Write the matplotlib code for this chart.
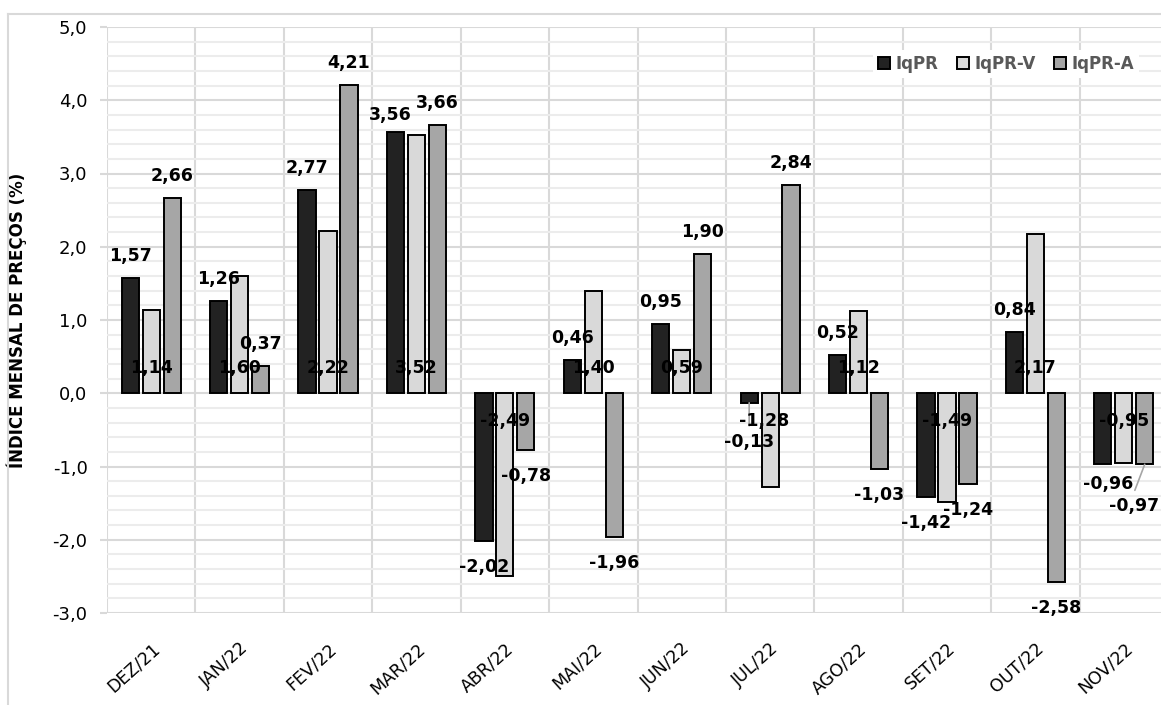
import matplotlib
matplotlib.use("Agg")
import matplotlib.pyplot as plt
from matplotlib.ticker import FuncFormatter, MultipleLocator
from matplotlib.lines import Line2D
import numpy as np

plt.rcParams['font.family'] = ['DejaVu Sans']

months = ["DEZ/21", "JAN/22", "FEV/22", "MAR/22", "ABR/22", "MAI/22",
          "JUN/22", "JUL/22", "AGO/22", "SET/22", "OUT/22", "NOV/22"]
iqpr   = [1.57, 1.26, 2.77, 3.56, -2.02, 0.46, 0.95, -0.13, 0.52, -1.42, 0.84, -0.96]
iqpr_v = [1.14, 1.60, 2.22, 3.52, -2.49, 1.40, 0.59, -1.28, 1.12, -1.49, 2.17, -0.95]
iqpr_a = [2.66, 0.37, 4.21, 3.66, -0.78, -1.96, 1.90, 2.84, -1.03, -1.24, -2.58, -0.97]

names = ["IqPR", "IqPR-V", "IqPR-A"]
colors = ["#222222", "#d9d9d9", "#a6a6a6"]

W, H = 1161, 705
fig = plt.figure(figsize=(W / 100, H / 100), dpi=100)
# plot area in pixels: x 107..1168 (right side cut off by the image), y 27..613
ax = fig.add_axes([107 / W, 1 - 613 / H, (1168 - 107) / W, (613 - 27) / H])

x = np.arange(len(months))
step = 0.237
width = 0.195
series = [iqpr, iqpr_v, iqpr_a]
for k, (vals, c, n) in enumerate(zip(series, colors, names)):
    ax.bar(x + (k - 1) * step, vals, width, color=c, edgecolor="black",
           linewidth=1.4, label=n, zorder=3)

ax.set_xlim(-0.5, len(months) - 0.5)
ax.set_ylim(-3, 5)

def fmt(v):
    return f"{v:.2f}".replace(".", ",")

# label offsets in pixels (dx, dy) from bar end, Excel-like positions
special = {(0, 3): (-5, 17), (0, 7): (0, -39), (0, 11): (5, -20),
           (2, 11): (-11, -42), (1, 7): (-6, 0)}
leaders = {(0, 7), (2, 11)}
for k, vals in enumerate(series):
    for i, v in enumerate(vals):
        xb = i + (k - 1) * step
        if k == 1:
            # IqPR-V labels sit near the base of the bar
            dy = 25 if v > 0 else -28
            dx = special.get((k, i), (0, 0))[0]
            ax.annotate(fmt(v), (xb, 0), xytext=(dx, dy), textcoords="offset pixels",
                        ha="center", va="center", fontsize=12.5, fontweight="bold",
                        zorder=5)
            continue
        dx, dy = special.get((k, i), (0, 22 if v > 0 else -26))
        ax.annotate(fmt(v), (xb, v), xytext=(dx, dy), textcoords="offset pixels",
                    ha="center", va="center", fontsize=12.5, fontweight="bold", zorder=5)
        if (k, i) in leaders:
            ax.annotate("", (xb, v), xytext=(dx * 0.9, dy + 16), textcoords="offset pixels",
                        arrowprops=dict(arrowstyle="-", color="#a6a6a6", lw=1.2,
                                        shrinkA=0, shrinkB=0), zorder=4)

# grid
ax.yaxis.set_major_locator(MultipleLocator(1))
ax.yaxis.set_minor_locator(MultipleLocator(0.2))
ax.grid(which="major", axis="y", color="#d9d9d9", lw=1.5, zorder=1)
ax.grid(which="minor", axis="y", color="#ececec", lw=1.5, zorder=0)
for b in np.arange(-0.5, len(months), 1):
    ax.axvline(b, color="#d9d9d9", lw=1.5, zorder=1)
for s in ax.spines.values():
    s.set_visible(False)

ax.yaxis.set_major_formatter(FuncFormatter(lambda v, p: f"{v:.1f}".replace(".", ",")))
ax.tick_params(axis="y", which="major", length=5, color="#d9d9d9", width=1.5,
               labelsize=13, pad=9)
ax.tick_params(axis="y", which="minor", length=0)
ax.set_xticks(x)
ax.set_xticklabels(months, rotation=42, ha="right", rotation_mode="anchor",
                   fontsize=12.5)
ax.tick_params(axis="x", length=0, pad=19)

ax.set_ylabel("ÍNDICE MENSAL DE PREÇOS (%)", fontsize=12, fontweight="bold")
ax.yaxis.set_label_coords((27 - 107) / 1061, 0.5)

leg = ax.legend(loc="center", bbox_to_anchor=(1006 / W, 1 - 64 / H),
                bbox_transform=fig.transFigure, ncol=3, frameon=True,
                fancybox=False, edgecolor="none", facecolor="white", framealpha=1,
                handlelength=0.75, handleheight=0.75, handletextpad=0.3,
                columnspacing=1.1, borderpad=0.3,
                prop={"size": 12, "weight": "bold"})
for t in leg.get_texts():
    t.set_color("#595959")

# outer chart border
fig.add_artist(Line2D([8 / W, 8 / W], [0, 1 - 14 / H], color="#d9d9d9", lw=1.5))
fig.add_artist(Line2D([8 / W, 1], [1 - 14 / H, 1 - 14 / H], color="#d9d9d9", lw=1.5))

fig.savefig("out.png", dpi=100)
